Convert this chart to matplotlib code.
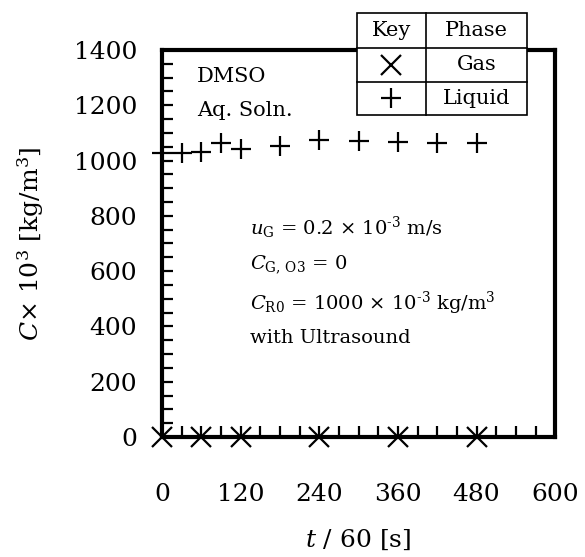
import matplotlib
matplotlib.use("Agg")
import matplotlib.pyplot as plt
from matplotlib.ticker import MultipleLocator
from matplotlib.lines import Line2D
from matplotlib.patches import Rectangle

plt.rcParams['font.family'] = ['DejaVu Serif']
plt.rcParams['mathtext.fontset'] = 'dejavuserif'

gas_t = [0, 60, 120, 240, 360, 480]
gas_c = [0, 0, 0, 0, 0, 0]
liq_t = [0, 30, 60, 90, 120, 180, 240, 300, 360, 420, 480]
liq_c = [1026, 1026, 1032, 1065, 1041, 1053, 1074, 1072, 1066, 1065, 1065]
x_ticks = [0, 120, 240, 360, 480, 600]
y_ticks = [0, 200, 400, 600, 800, 1000, 1200, 1400]

fig = plt.figure(figsize=(5.85, 5.57), dpi=100)
ax = fig.add_axes([0.277, 0.2154, 0.672, 0.695])

ax.plot(gas_t, gas_c, linestyle='none', marker='x', color='black',
        markersize=14, markeredgewidth=1.6, clip_on=False, zorder=5)
ax.plot(liq_t, liq_c, linestyle='none', marker='+', color='black',
        markersize=14, markeredgewidth=1.6, clip_on=False, zorder=5)

ax.set_xlim(0, 600)
ax.set_ylim(0, 1400)
ax.set_xticks(x_ticks)
ax.set_yticks(y_ticks)
ax.xaxis.set_minor_locator(MultipleLocator(30))
ax.yaxis.set_minor_locator(MultipleLocator(50))
for s in ax.spines.values():
    s.set_linewidth(3.0)
ax.tick_params(which='both', direction='in', top=False, right=False,
               width=1.6, labelsize=18)
ax.tick_params(which='major', length=8)
ax.tick_params(which='minor', length=8)
ax.tick_params(axis='x', which='major', pad=33)
ax.tick_params(axis='y', which='major', pad=18)

ax.set_xlabel('$t$ / 60 [s]', fontsize=18, labelpad=16)
ax.set_ylabel('$C$× 10$^3$ [kg/m$^3$]', fontsize=18, labelpad=20)

fig.text(0.337, 0.862, 'DMSO', fontsize=15, va='center', ha='left')
fig.text(0.337, 0.8025, 'Aq. Soln.', fontsize=15, va='center', ha='left')

lines = [r'$u_{\rm G}$ = 0.2 × 10$^{\rm ‐3}$ m/s',
         r'$C_{\rm G,\,O3}$ = 0',
         r'$C_{\rm R0}$ = 1000 × 10$^{\rm ‐3}$ kg/m$^3$',
         'with Ultrasound']
ys = [0.591, 0.524, 0.456, 0.393]
for s, y in zip(lines, ys):
    fig.text(0.427, y, s, fontsize=14, va='center', ha='left')

# key table
x0, xm, x1 = 0.610, 0.728, 0.901
yt, y1, y2, yb = 0.977, 0.914, 0.853, 0.794
fig.add_artist(Rectangle((x0, yb), x1 - x0, yt - yb, transform=fig.transFigure,
                         facecolor='white', edgecolor='black', linewidth=1.2, zorder=10))
for y in (y1, y2):
    fig.add_artist(Line2D([x0, x1], [y, y], transform=fig.transFigure,
                          color='black', linewidth=1.2, zorder=11))
fig.add_artist(Line2D([xm, xm], [yb, yt], transform=fig.transFigure,
                      color='black', linewidth=1.2, zorder=11))
cx1 = (x0 + xm) / 2
cx2 = (xm + x1) / 2
fig.text(cx1, (yt + y1) / 2, 'Key', fontsize=15, ha='center', va='center', zorder=12)
fig.text(cx2, (yt + y1) / 2, 'Phase', fontsize=15, ha='center', va='center', zorder=12)
fig.add_artist(Line2D([cx1], [(y1 + y2) / 2], transform=fig.transFigure, marker='x',
                      markersize=14, markeredgewidth=1.6, color='black', zorder=12))
fig.add_artist(Line2D([cx1], [(y2 + yb) / 2], transform=fig.transFigure, marker='+',
                      markersize=14, markeredgewidth=1.6, color='black', zorder=12))
fig.text(cx2, (y1 + y2) / 2, 'Gas', fontsize=15, ha='center', va='center', zorder=12)
fig.text(cx2, (y2 + yb) / 2, 'Liquid', fontsize=15, ha='center', va='center', zorder=12)

fig.savefig('out.png', dpi=100)
